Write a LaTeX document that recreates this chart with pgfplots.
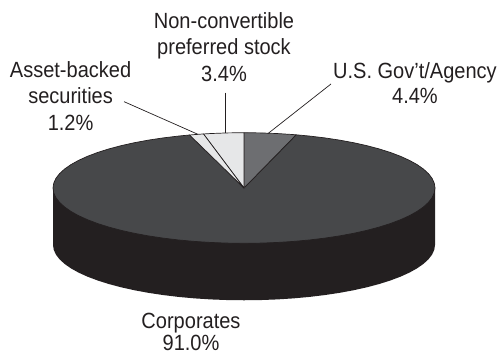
\documentclass[border=0pt]{standalone}
\usepackage{fontspec}
\usepackage{pgfplots}
\pgfplotsset{compat=1.18}
\setmainfont[FakeStretch=0.91]{Liberation Sans}
\definecolor{inkdark}{HTML}{231F20}
\definecolor{topface}{HTML}{47484A}
\definecolor{govgray}{HTML}{6D6E71}
\definecolor{lightgray}{HTML}{E6E7E8}
\begin{document}
\begin{tikzpicture}
\useasboundingbox (0,0) rectangle (497pt,354pt);
% The pie lies on a unit circle: x = sin(angle), y = cos(angle), clockwise from north.
% Shares: U.S. Gov't/Agency 4.4, non-convertible preferred 3.4, asset-backed 1.2, corporates 91.0.
\begin{axis}[
  hide axis, scale only axis, clip=false,
  width=497pt, height=354pt,
  xmin=-1.2775, xmax=1.3246, ymin=-3.0018, ymax=3.3996,
  every axis plot/.append style={no markers},
]
% side wall, depth 1.03
\addplot[fill=inkdark, draw=none] coordinates {
 (1,0) (1,-1.03)
 (.99619,-1.11716) (.98481,-1.20365) (.96593,-1.28882) (.93969,-1.37202)
 (.90631,-1.45262) (.86603,-1.53) (.81915,-1.60358) (.76604,-1.67279)
 (.70711,-1.73711) (.64279,-1.79604) (.57358,-1.84915) (.5,-1.89603)
 (.42262,-1.93631) (.34202,-1.96969) (.25882,-1.99593) (.17365,-2.01481)
 (.08716,-2.02619) (0,-2.03)
 (-.08716,-2.02619) (-.17365,-2.01481) (-.25882,-1.99593) (-.34202,-1.96969)
 (-.42262,-1.93631) (-.5,-1.89603) (-.57358,-1.84915) (-.64279,-1.79604)
 (-.70711,-1.73711) (-.76604,-1.67279) (-.81915,-1.60358) (-.86603,-1.53)
 (-.90631,-1.45262) (-.93969,-1.37202) (-.96593,-1.28882) (-.98481,-1.20365)
 (-.99619,-1.11716) (-1,-1.03) (-1,0)
} --cycle;
% corporates, 91.0 %
\addplot[fill=topface, draw=inkdark, line width=0.7pt, line join=round] coordinates {
 (0,0) (.2729,.9620)
 (.34202,.93969) (.42262,.90631) (.5,.86603) (.57358,.81915) (.64279,.76604)
 (.70711,.70711) (.76604,.64279) (.81915,.57358) (.86603,.5) (.90631,.42262)
 (.93969,.34202) (.96593,.25882) (.98481,.17365) (.99619,.08716) (1,0)
 (.99619,-.08716) (.98481,-.17365) (.96593,-.25882) (.93969,-.34202)
 (.90631,-.42262) (.86603,-.5) (.81915,-.57358) (.76604,-.64279) (.70711,-.70711)
 (.64279,-.76604) (.57358,-.81915) (.5,-.86603) (.42262,-.90631) (.34202,-.93969)
 (.25882,-.96593) (.17365,-.98481) (.08716,-.99619) (0,-1)
 (-.08716,-.99619) (-.17365,-.98481) (-.25882,-.96593) (-.34202,-.93969)
 (-.42262,-.90631) (-.5,-.86603) (-.57358,-.81915) (-.64279,-.76604) (-.70711,-.70711)
 (-.76604,-.64279) (-.81915,-.57358) (-.86603,-.5) (-.90631,-.42262) (-.93969,-.34202)
 (-.96593,-.25882) (-.98481,-.17365) (-.99619,-.08716) (-1,0)
 (-.99619,.08716) (-.98481,.17365) (-.96593,.25882) (-.93969,.34202)
 (-.90631,.42262) (-.86603,.5) (-.81915,.57358) (-.76604,.64279) (-.70711,.70711)
 (-.64279,.76604) (-.57358,.81915) (-.5,.86603) (-.42262,.90631) (-.34202,.93969)
 (-.2850,.9585)
} --cycle;
% U.S. Gov't/Agency, 4.4 %
\addplot[fill=govgray, draw=inkdark, line width=0.7pt, line join=round] coordinates {
 (0,0) (0,1) (.08716,.99619) (.17365,.98481) (.25882,.96593) (.2729,.9620)
} --cycle;
% non-convertible preferred stock, 3.4 %
\addplot[fill=lightgray, draw=inkdark, line width=0.7pt, line join=round] coordinates {
 (0,0) (-.2120,.9773) (-.17365,.98481) (-.08716,.99619) (0,1)
} --cycle;
% asset-backed securities, 1.2 %
\addplot[fill=lightgray, draw=inkdark, line width=0.7pt, line join=round] coordinates {
 (0,0) (-.2850,.9585) (-.25882,.96593) (-.2120,.9773)
} --cycle;
% leader lines
\addplot[inkdark, line width=0.7pt] coordinates {(.4555,1.881) (.1272,.989)};
\addplot[inkdark, line width=0.7pt] coordinates {(-.098,1.723) (-.098,.995)};
\addplot[inkdark, line width=0.7pt] coordinates {(-.628,1.561) (-.2408,.97)};
% labels
\begin{scope}[every node/.style={anchor=base, font=\fontsize{22pt}{26pt}\selectfont, text=inkdark, inner sep=0pt}]
\node at (axis cs:-.1047,2.893) {Non-convertible};
\node at (axis cs:-.1047,2.405) {preferred stock};
\node at (axis cs:-.1047,1.922) {3.4\%};
\node at (axis cs:-.908,2.007) {Asset-backed};
\node at (axis cs:-.908,1.537) {securities};
\node at (axis cs:-.908,1.040) {1.2\%};
\node at (axis cs:.895,1.989) {U.S. Gov’t/Agency};
\node at (axis cs:.895,1.519) {4.4\%};
\node at (axis cs:-.2775,-2.532) {Corporates};
\node at (axis cs:-.2775,-2.93) {91.0\%};
\end{scope}
\end{axis}
\end{tikzpicture}
\end{document}
